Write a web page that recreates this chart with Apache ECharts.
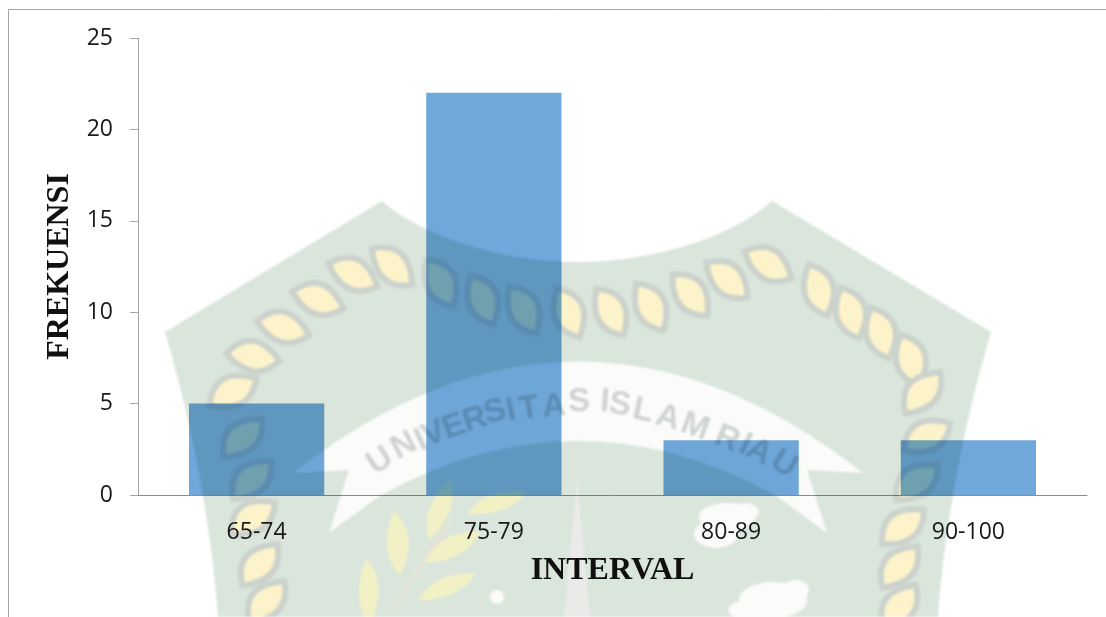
<!DOCTYPE html>
<html>
<head>
<meta charset="utf-8">
<script src="https://cdn.jsdelivr.net/npm/echarts@6/dist/echarts.min.js"></script>
<style>
html, body { margin: 0; padding: 0; background: #fff; overflow: hidden; }
#wm, #main { position: absolute; left: 0; top: 0; width: 1106px; height: 617px; }
#wm { filter: blur(1.2px); }
#main { mix-blend-mode: multiply; }
</style>
</head>
<body>
<div id="wm"></div>
<div id="main"></div>
<script>
var categories = ['65-74', '75-79', '80-89', '90-100'];
var frekuensi = [5, 22, 3, 3];
var xTitle = 'INTERVAL';
var yTitle = 'FREKUENSI';

// watermark logo behind the chart (decoration only)
var ropeLeaves = [
    [233, 392, -30], [253, 357, 8], [283, 328, 15], [318, 300, 18], [353, 275, 25], [392, 267, 42],
    [440, 283, 60], [482, 300, 65], [523, 310, 60], [568, 313, 65], [610, 312, 60], [650, 307, 60],
    [690, 295, 50], [727, 280, 40], [768, 265, 30], [818, 290, 70], [850, 313, 70], [880, 333, 70],
    [910, 360, 70], [923, 393, -50], [927, 437, -30], [917, 482, -40], [903, 527, -40], [900, 567, -50], [900, 607, -55],
    [243, 438, -45], [252, 480, -45], [253, 518, -35], [260, 565, -50], [267, 602, -50]
];
var bannerLetters = [
    ['U', 380, 461, -32], ['N', 404, 446, -28], ['I', 421, 441, -25], ['V', 434, 434, -23],
    ['E', 454, 427, -20], ['R', 475, 420, -18], ['S', 495, 412, -15], ['I', 511, 411, -12],
    ['T', 529, 409, -9], ['A', 554, 407, -5], ['S', 579, 402, -1], ['I', 605, 402, 4],
    ['S', 620, 405, 8], ['L', 643, 411, 12], ['A', 668, 418, 16], ['M', 695, 427, 20],
    ['R', 727, 439, 24], ['I', 745, 445, 26], ['A', 759, 452, 28], ['U', 784, 464, 32]
];
var branchLeaves = [
    [397, 543, 85, 33, 11], [440, 510, -70, 32, 10], [497, 503, -20, 32, 9],
    [453, 547, -30, 32, 10], [447, 587, -25, 32, 9], [368, 592, 88, 34, 10]
];
var clouds = [[727, 517, 28, 14], [716, 534, 22, 14], [745, 512, 14, 9], [773, 600, 34, 18], [750, 610, 22, 10], [795, 590, 14, 10], [497, 597, 7, 7]];

echarts.graphic.registerShape('shield', echarts.graphic.extendPath('M165 332 L382 201 C420 235 500 262 578 262 C656 262 735 235 772 201 L991 332 C965 420 945 520 938 617 L218 617 C211 520 191 420 165 332 Z', {}));
echarts.graphic.registerShape('banner', echarts.graphic.extendPath('M293 473 Q578 250 863 473 L807 470 L827 533 L775 495 Q578 387 381 495 L329 533 L349 470 Z', {}));
echarts.graphic.registerShape('leaf', echarts.graphic.extendPath('M-27 0 Q-4 -32 27 0 Q4 28 -27 0 Z', {}));
echarts.graphic.registerShape('stem', echarts.graphic.extendPath('M393 612 Q415 570 450 523', {}));

var wmGraphics = [
    { type: 'shield', silent: true, style: { fill: '#dae5dc' } }
];
ropeLeaves.forEach(function (l) {
    wmGraphics.push({ type: 'leaf', silent: true, x: l[0], y: l[1], rotation: -l[2] * Math.PI / 180,
        style: { fill: '#fdf3cb', stroke: '#ccd3cc', lineWidth: 6 } });
});
wmGraphics.push({ type: 'banner', silent: true, style: { fill: '#fbfcfa' } });
bannerLetters.forEach(function (l) {
    wmGraphics.push({ type: 'text', silent: true, x: l[1], y: l[2], rotation: -l[3] * Math.PI / 180,
        style: { text: l[0], fill: '#cfd3d2', font: 'bold 33px "Liberation Sans"', align: 'center', verticalAlign: 'middle' } });
});
wmGraphics.push({ type: 'stem', silent: true, style: { fill: 'none', stroke: '#e9e4d6', lineWidth: 3 } });
branchLeaves.forEach(function (l) {
    wmGraphics.push({ type: 'leaf', silent: true, x: l[0], y: l[1], rotation: -l[2] * Math.PI / 180,
        scaleX: l[3] / 27, scaleY: l[4] / 15, style: { fill: '#f2f1c6' } });
});
wmGraphics.push({ type: 'polygon', silent: true, shape: { points: [[577, 478], [590, 617], [564, 617]] }, style: { fill: '#eaebe9' } });
clouds.forEach(function (c) {
    wmGraphics.push({ type: 'ellipse', silent: true, shape: { cx: c[0], cy: c[1], rx: c[2], ry: c[3] }, style: { fill: '#fbfbf9' } });
});

var wmChart = echarts.init(document.getElementById('wm'));
wmChart.setOption({ animation: false, graphic: wmGraphics });

var myChart = echarts.init(document.getElementById('main'));
var option = {
    animation: false,
    textStyle: { fontFamily: '"Open Sans"' },
    grid: { left: 138, right: 19, top: 38, bottom: 122 },
    graphic: [
        { type: 'line', silent: true, shape: { x1: 8.5, y1: 9.5, x2: 1106, y2: 9.5 }, style: { stroke: '#a6a6a6', lineWidth: 1 } },
        { type: 'line', silent: true, shape: { x1: 8.5, y1: 9.5, x2: 8.5, y2: 617 }, style: { stroke: '#a6a6a6', lineWidth: 1 } }
    ],
    xAxis: {
        type: 'category',
        data: categories,
        name: xTitle,
        nameLocation: 'middle',
        nameGap: 60,
        nameTextStyle: { fontFamily: '"Liberation Serif"', fontWeight: 'bold', fontSize: 32, color: '#111' },
        axisLine: { lineStyle: { color: '#8c8c8c', width: 1 } },
        axisTick: { show: false },
        axisLabel: { fontSize: 23, color: '#1a1a1a', margin: 26 }
    },
    yAxis: {
        type: 'value',
        min: 0,
        max: 25,
        interval: 5,
        name: yTitle,
        nameLocation: 'middle',
        nameGap: 56,
        nameTextStyle: { fontFamily: '"Liberation Serif"', fontWeight: 'bold', fontSize: 32, color: '#111' },
        axisLine: { show: true, lineStyle: { color: '#a6a6a6', width: 1 } },
        axisTick: { show: true, length: 8, lineStyle: { color: '#a6a6a6' } },
        axisLabel: { fontSize: 23, color: '#1a1a1a', margin: 25, padding: [3, 0, 0, 0] },
        splitLine: { show: false }
    },
    series: [
        {
            name: yTitle,
            type: 'bar',
            data: frekuensi,
            barCategoryGap: '43%',
            itemStyle: { color: '#70a8dc' }
        }
    ]
};
myChart.setOption(option);
</script>
</body>
</html>
